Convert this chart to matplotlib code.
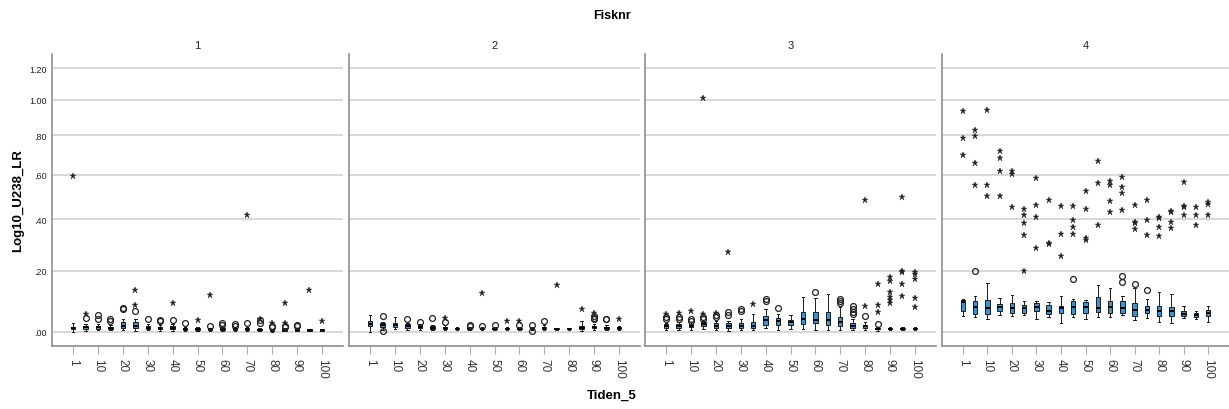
import numpy as np
import matplotlib
matplotlib.use("Agg")
import matplotlib.pyplot as plt

plt.rcParams['font.family'] = ['Liberation Sans', 'DejaVu Sans']

# Tiden_5 categories (x) and Fisknr panels
tiden = [1, 5, 10, 15, 20, 25, 30, 35, 40, 45, 50, 55, 60, 65, 70, 75, 80, 85, 90, 95, 100]
tick_labels = ['1', '10', '20', '30', '40', '50', '60', '70', '80', '90', '100']
fisknr = ['1', '2', '3', '4']
y_ticks = [0.0, 0.2, 0.4, 0.6, 0.8, 1.0, 1.2]
y_tick_labels = ['.00', '.20', '.40', '.60', '.80', '1.00', '1.20']

# box statistics, one row per fish
whislo = [
    [.001, .004, .005, .005, .005, .004, .005, .003, .004, .003, .003, .003, .002, .003, .003, .002, .001, .002, .002, .002, .002],
    [.001, .007, .009, .007, .007, .007, .005, .006, .005, .005, .005, .005, .005, .006, .006, .006, .006, .004, .006, .006, .006],
    [.007, .007, .007, .009, .007, .004, .007, .007, .011, .007, .009, .009, .007, .007, .007, .007, .007, .004, .005, .005, .005],
    [.050, .047, .038, .053, .048, .051, .040, .047, .026, .045, .040, .045, .045, .053, .035, .042, .031, .027, .042, .038, .029],
]
q1 = [
    [.008, .009, .010, .009, .012, .011, .010, .008, .009, .006, .006, .005, .005, .006, .005, .005, .003, .004, .004, .004, .004],
    [.019, .016, .014, .012, .011, .010, .009, .008, .008, .008, .008, .008, .008, .008, .009, .008, .008, .009, .011, .010, .010],
    [.013, .013, .014, .017, .013, .011, .011, .012, .022, .022, .022, .025, .026, .022, .017, .011, .011, .008, .008, .008, .008],
    [.066, .055, .055, .065, .058, .058, .064, .056, .058, .056, .058, .063, .059, .058, .048, .058, .048, .048, .048, .047, .048],
]
med = [
    [.012, .014, .014, .012, .019, .018, .013, .011, .013, .009, .008, .008, .008, .010, .008, .007, .005, .007, .006, .006, .005],
    [.025, .021, .021, .017, .015, .013, .012, .010, .010, .010, .010, .010, .010, .010, .012, .010, .010, .013, .014, .013, .012],
    [.019, .019, .019, .023, .019, .017, .017, .019, .036, .032, .029, .040, .035, .036, .029, .019, .017, .010, .010, .010, .010],
    [.095, .077, .073, .078, .074, .073, .078, .066, .073, .078, .079, .074, .078, .075, .069, .069, .066, .066, .056, .052, .058],
]
q3 = [
    [.016, .019, .019, .016, .029, .029, .019, .014, .019, .012, .011, .011, .011, .012, .011, .009, .007, .009, .009, .008, .008],
    [.032, .026, .027, .023, .020, .017, .016, .012, .012, .012, .012, .012, .012, .012, .016, .012, .012, .017, .019, .016, .015],
    [.023, .025, .024, .029, .026, .026, .028, .030, .048, .042, .036, .061, .060, .062, .045, .026, .022, .012, .012, .012, .012],
    [.100, .096, .100, .087, .090, .085, .089, .084, .082, .098, .095, .109, .096, .096, .089, .082, .080, .079, .064, .058, .069],
]
whishi = [
    [.027, .023, .024, .022, .039, .039, .024, .020, .024, .016, .014, .013, .014, .015, .014, .012, .010, .012, .011, .010, .010],
    [.052, .030, .045, .028, .024, .021, .020, .014, .016, .015, .015, .015, .015, .015, .020, .013, .013, .034, .025, .020, .018],
    [.027, .031, .030, .034, .034, .033, .040, .055, .071, .055, .052, .109, .107, .120, .076, .040, .030, .014, .014, .014, .014],
    [.104, .113, .158, .108, .118, .096, .096, .093, .115, .104, .101, .151, .139, .113, .139, .104, .126, .119, .082, .064, .080],
]

# outliers (circles) and extreme values (stars)
circles = [
    [[], [.042], [.052, .041], [.039, .034], [.073, .071], [.065], [.039], [.037, .033], [.035], [.028], [],
     [.017], [.026, .021], [.024, .019], [.026], [.036, .026], [.019, .014], [.017, .014], [.021, .017], [], []],
    [[], [.050, .002], [], [.040], [.031], [.042], [.031], [], [.022, .019], [.019], [.020],
     [], [.022], [.020, .003], [.032], [], [], [], [.048, .042, .038], [.040, .038], []],
    [[.045, .040], [.045, .038], [.040, .033], [.045, .038], [.052, .045], [.060, .052], [.071, .065], [],
     [.103, .098], [.073], [], [], [.126], [], [.104, .097, .090], [.080, .071, .062, .054], [.048], [.024],
     [], [], []],
    [[], [.200], [], [], [], [], [], [], [], [.171], [], [], [], [.183, .162], [.153], [.134], [], [], [], [], []],
]
stars = [
    [[.592], [.056], [], [], [], [.135, .085], [], [], [.091], [], [.035], [.116], [], [], [.417], [.039],
     [.026], [.090, .026], [], [.135], [.033]],
    [[], [], [], [], [], [], [.042], [], [], [.125], [], [.032], [.032], [], [], [.150], [], [.071], [.058],
     [], [.038]],
    [[.055], [.058], [.066], [1.01, .054], [.058], [.27], [], [.087], [], [], [], [], [], [], [], [],
     [.485, .080], [.154, .084, .062], [.178, .166, .126, .109, .101, .090],
     [.496, .201, .197, .154, .113], [.195, .189, .171, .107, .076]],
    [[.937, .783, .695], [.830, .797, .655, .551], [.941, .551, .500], [.717, .680, .616, .500],
     [.616, .603, .454], [.444, .420, .383, .337, .200], [.582, .463, .410, .284], [.482, .303, .300],
     [.458, .341, .254], [.458, .396, .369, .341], [.524, .442, .325, .316], [.667, .559, .377],
     [.569, .551, .480, .431], [.588, .542, .516, .439], [.460, .390, .385, .360], [.482, .397, .337],
     [.410, .404, .369, .333], [.436, .431, .390, .363], [.567, .458, .454, .418], [.454, .420, .377],
     [.476, .466, .418]],
]


def fwd(y):
    return np.log10(np.clip(1 + np.asarray(y, dtype=float), 1e-6, None))


def inv(t):
    return 10 ** np.asarray(t, dtype=float) - 1


W, H = 1229, 410
fig = plt.figure(figsize=(W / 100, H / 100), dpi=100)

lefts = [52, 349, 645, 942]
widths = [291, 291, 291, 287]
top, bottom = 55, 347
pos = np.arange(len(tiden))

for k in range(4):
    ax = fig.add_axes([lefts[k] / W, 1 - bottom / H, widths[k] / W, (bottom - top) / H])
    ax.set_yscale('function', functions=(fwd, inv))

    stats = []
    for i in range(len(tiden)):
        stats.append(dict(med=med[k][i], q1=q1[k][i], q3=q3[k][i],
                          whislo=whislo[k][i], whishi=whishi[k][i], fliers=[]))
    ax.bxp(stats, positions=pos, widths=0.36, patch_artist=True, showfliers=False,
           capwidths=0.2,
           boxprops=dict(facecolor='#3b93d6', edgecolor='#1c1c1c', linewidth=0.7),
           medianprops=dict(color='black', linewidth=1.4),
           whiskerprops=dict(color='#1c1c1c', linewidth=0.7),
           capprops=dict(color='#1c1c1c', linewidth=0.7))

    for i in range(len(tiden)):
        if circles[k][i]:
            ax.plot([i] * len(circles[k][i]), circles[k][i], 'o', mfc='none', mec='#222222',
                    ms=4.2, mew=0.9, zorder=4)
        if stars[k][i]:
            ax.plot([i] * len(stars[k][i]), stars[k][i], '*', color='#222222',
                    ms=5.0, mew=0.3, zorder=4)

    ax.set_xlim(-1.7, 21.7)
    ax.set_ylim(-0.041, 1.294)
    ax.set_yticks(y_ticks)
    ax.set_yticklabels(y_tick_labels)
    ax.yaxis.set_minor_locator(matplotlib.ticker.NullLocator())
    ax.set_xticks(pos[::2])
    ax.set_xticklabels(tick_labels, rotation=-90, fontsize=8.5, color='#333333')
    ax.tick_params(axis='x', length=6, width=0.8, color='#b0b0b0', pad=3)
    ax.tick_params(axis='y', length=0, pad=4, labelsize=6.5, labelcolor='#222222')
    if k > 0:
        ax.tick_params(axis='y', labelleft=False)

    ax.grid(axis='y', color='#d2d2d2', linewidth=1.2)
    ax.set_axisbelow(True)
    for s in ['top', 'right']:
        ax.spines[s].set_visible(False)
    for s in ['left', 'bottom']:
        ax.spines[s].set_color('#8e8e8e')
        ax.spines[s].set_linewidth(1.2)

    ax.set_title(fisknr[k], fontsize=8, pad=4.5, color='#222222')

fig.text(612 / W, 1 - 16 / H, 'Fisknr', ha='center', va='center', fontsize=9, fontweight='bold')
fig.text(612 / W, 1 - 396 / H, 'Tiden_5', ha='center', va='center', fontsize=9.5, fontweight='bold')
fig.text(18 / W, 1 - 201 / H, 'Log10_U238_LR', ha='center', va='center', rotation=90,
         fontsize=9.5, fontweight='bold')

fig.savefig('out.png', dpi=100)
